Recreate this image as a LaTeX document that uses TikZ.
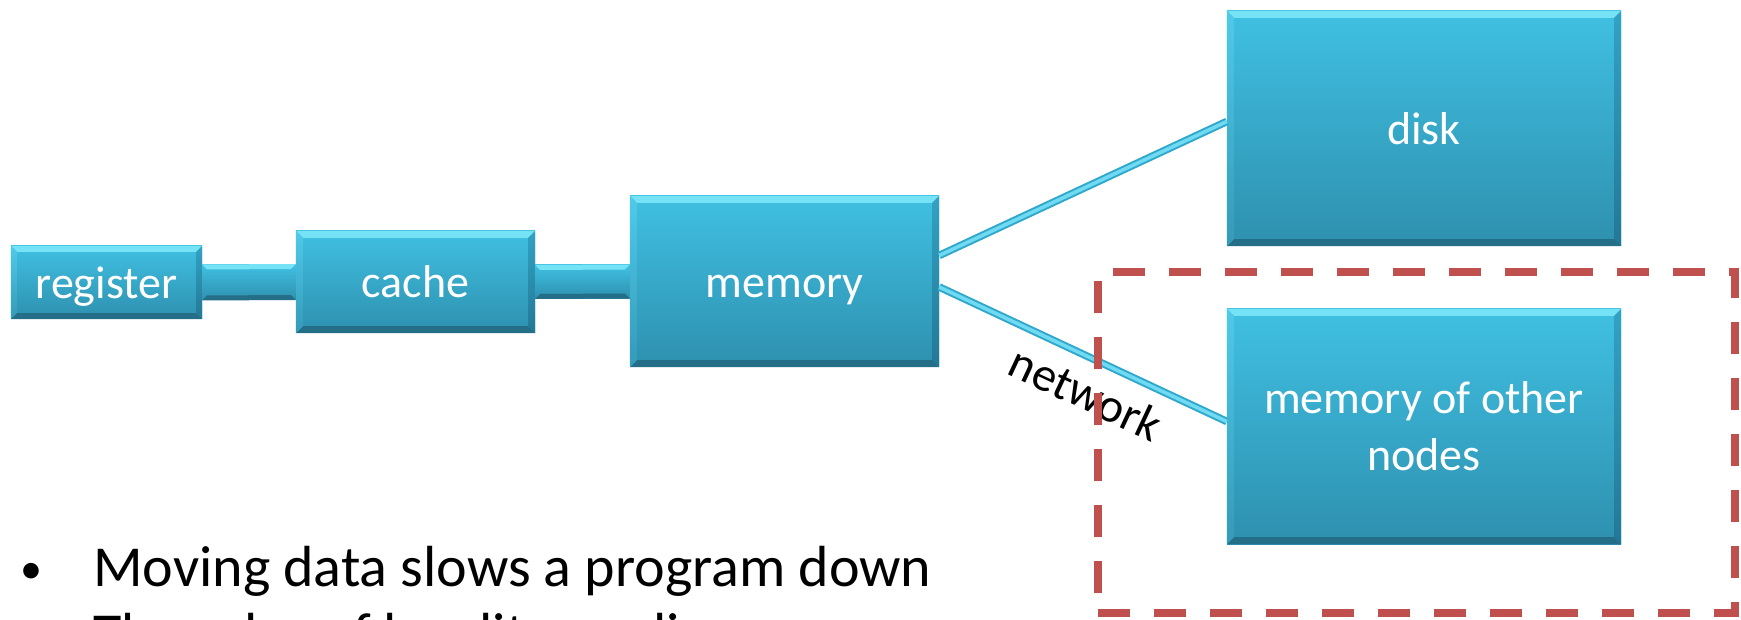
\documentclass[tikz,border=0pt]{standalone}
\usepackage{fontspec}
\setmainfont{Carlito}
\usetikzlibrary{calc}

\definecolor{boxtop}{RGB}{64,192,226}
\definecolor{boxbot}{RGB}{46,144,175}
\definecolor{bevhi}{RGB}{118,226,246}
\definecolor{bevlo}{RGB}{36,110,136}
\definecolor{bevltop}{RGB}{80,202,234}
\definecolor{bevlbot}{RGB}{52,154,184}
\definecolor{bevrtop}{RGB}{50,162,196}
\definecolor{bevrbot}{RGB}{34,120,150}
\definecolor{tubeedge}{RGB}{48,168,204}
\definecolor{tubecore}{RGB}{112,218,242}
\definecolor{remotered}{RGB}{192,80,77}

\tikzset{
  membox/.style={rectangle, inner sep=0pt, top color=boxtop, bottom color=boxbot,
    text=white, align=center, font=\fontsize{46}{57}\selectfont},
  oneline/.style={text height=43.8pt, text depth=12.4pt},
  tube/.style={draw=tubeedge, line width=2pt, double=tubecore, double distance=3.6pt},
  remotebox/.style={rectangle, draw=remotered, line width=8pt,
    dash pattern=on 32pt off 24pt, inner sep=0pt},
  bullettext/.style={inner sep=0pt, anchor=base west, font=\fontsize{58}{70}\selectfont},
  bulletmark/.style={inner sep=0pt, anchor=base, font=\fontsize{44}{52}\selectfont},
  netlabel/.style={inner sep=0pt, font=\fontsize{48}{56}\selectfont}
}

% bevelled edges of a box: #1 node name, #2 bevel width
\newcommand\bevelbox[2]{%
  \fill[bevhi] (#1.north west) -- (#1.north east) -- ($(#1.north east)+(-#2,#2)$)
    -- ($(#1.north west)+(#2,#2)$) -- cycle;
  \fill[bevlo] (#1.south west) -- (#1.south east) -- ($(#1.south east)+(-#2,-#2)$)
    -- ($(#1.south west)+(#2,-#2)$) -- cycle;
  \shade[top color=bevltop, bottom color=bevlbot] (#1.north west) -- ($(#1.north west)+(#2,#2)$)
    -- ($(#1.south west)+(#2,-#2)$) -- (#1.south west) -- cycle;
  \shade[top color=bevrtop, bottom color=bevrbot] (#1.north east) -- ($(#1.north east)+(-#2,#2)$)
    -- ($(#1.south east)+(-#2,-#2)$) -- (#1.south east) -- cycle;
}

% thick bevelled bar joining two boxes: #1 from, #2 to, #3 half height
\newcommand\barlink[3]{%
  \shade[top color=boxtop, bottom color=boxbot] ($(#1.east)+(0,-#3)$) rectangle ($(#2.west)+(0,#3)$);
  \fill[bevhi] ($(#1.east)+(0,-#3)$) -- ($(#2.west)+(0,-#3)$) -- ($(#2.west)+(-5,-#3+5)$)
    -- ($(#1.east)+(5,-#3+5)$) -- cycle;
  \fill[bevlo] ($(#1.east)+(0,#3)$) -- ($(#2.west)+(0,#3)$) -- ($(#2.west)+(-5,#3-5)$)
    -- ($(#1.east)+(5,#3-5)$) -- cycle;
}

\begin{document}
\begin{tikzpicture}[x=1pt, y=-1pt]
  \clip (0,0) rectangle (1741,620);
  \fill[white] (0,0) rectangle (1741,620);

  % storage hierarchy
  \node[membox, oneline, minimum width=191pt, minimum height=73pt]  (register) at (106.5,282.5) {register};
  \node[membox, oneline, minimum width=239pt, minimum height=102pt] (cache)    at (415.5,282)   {cache};
  \node[membox, oneline, minimum width=309pt, minimum height=171pt] (memory)   at (784.5,281.5) {memory};
  \node[membox, oneline, minimum width=394pt, minimum height=235pt] (disk)     at (1424,128.5)  {disk};
  \node[membox, minimum width=394pt, minimum height=235pt] (others)   at (1424,426.5)  {memory of other\\nodes};

  \bevelbox{register}{6}
  \bevelbox{cache}{7}
  \bevelbox{memory}{7}
  \bevelbox{disk}{7}
  \bevelbox{others}{7}

  \barlink{register}{cache}{18}
  \barlink{cache}{memory}{17}

  \draw[tube] ($(memory.east)+(0,-26)$) -- ($(disk.west)+(0,-7)$);
  \draw[tube] ($(memory.east)+(0,5.5)$) --
    node[netlabel, sloped, below=16pt, pos=0.56] (netname) {network}
    ($(others.west)+(0,-5)$);

  % remote region
  \node[remotebox, minimum width=637pt, minimum height=341pt] (remote) at (1416.5,442.5) {};

  % bullet list
  \node[bulletmark] (dot1) at (31,583) {•};
  \node[bullettext] (line1) at (93,586) {Moving data slows a program down};
  \node[bullettext] (line2) at (93,653) {The rules of locality applies};
\end{tikzpicture}
\end{document}
